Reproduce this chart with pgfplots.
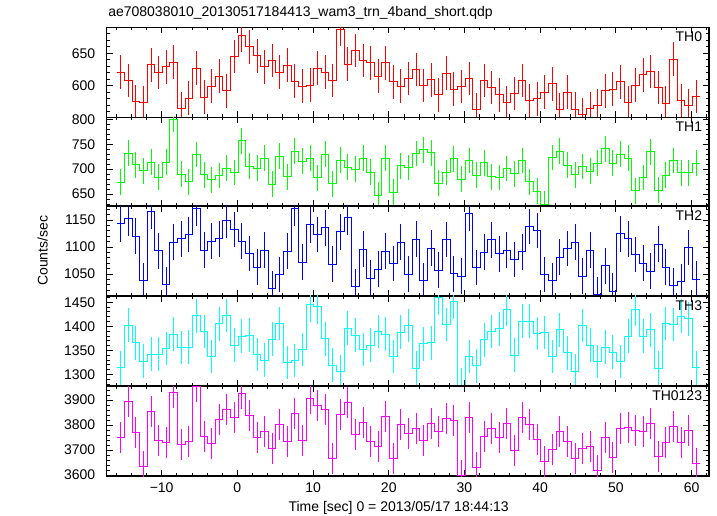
\documentclass[border=0pt]{standalone}
\usepackage{fontspec}
\setmainfont{Liberation Sans}
\usepackage{pgfplots}
\pgfplotsset{compat=1.18}
\usepackage{pgfplotstable}

\definecolor{cRed}{RGB}{255,0,0}
\definecolor{cGreen}{RGB}{0,255,0}
\definecolor{cBlue}{RGB}{0,0,255}
\definecolor{cCyan}{RGB}{0,255,255}
\definecolor{cMag}{RGB}{255,0,255}

\pgfplotstableread{
t th0 th1 th2 th3 th4
-15.4 620.7 673.3 1143 1314 3749.5
-14.4 608 732 1152.5 1402.8 3895.5
-13.4 575 708.7 1120 1366 3771
-12.4 574 696.7 1037 1327.5 3633.6
-11.4 632 714 1165.6 1342 3854.6
-10.4 620 684 1093 1342 3737
-9.4 629 714 1030.6 1354 3730.4
-8.4 636 800 1108.8 1384 3932
-7.4 564 690 1115 1356 3723.6
-6.4 580.6 674.7 1123 1357 3733
-5.4 627 729.3 1171 1422 3954
-4.4 582 688.7 1094.4 1389 3756
-3.4 599 678.7 1110.6 1337 3727.7
-2.4 614.5 687.3 1115 1405 3822
-1.4 592 702 1148.8 1422.5 3862.7
-0.4 645 693.3 1132 1360.6 3830
0.6 678 756.7 1110.6 1379.6 3928
1.6 660 706 1088 1381.7 3836.8
2.6 646 702 1062.5 1341.6 3752
3.6 629 722 1094.4 1330 3775.4
4.6 639 670 1023 1373 3707
5.6 621 726 1048.8 1405.6 3802.7
6.6 631.5 684.7 1092.5 1324.7 3733
7.6 607 736 1171 1329 3845
8.6 599 716 1072 1352 3740
9.6 600.6 722 1141 1445 3907.8
10.6 627 682.7 1123 1440.8 3879
11.6 621 730 1135.6 1374 3862.7
12.6 608 670.7 1068 1319.7 3666
13.6 686.5 718 1128 1306 3841
14.6 633 704 1155 1396.5 3888.7
15.6 654 700 1027 1381.7 3763
16.6 639 722 1096 1352 3809.5
17.6 635 694 1042 1361 3733
18.6 614.5 647.3 1059 1389.4 3712.7
19.6 635 722 1092 1384 3834
20.6 606 654 1069.4 1337 3666
21.6 599 706.7 1108.8 1388 3804
22.6 611 703.3 1049.4 1401.4 3766
23.6 625 731.3 1114.4 1312.7 3786
24.6 600 739.3 1038 1363.4 3740
25.6 609 733.3 1098 1365.5 3808
26.6 586 672 1057 1459 3772.7
27.6 619 693.3 1113.8 1403.5 3827
28.6 594.5 720.7 1050 1451 3818
29.6 598.6 679.3 1045.6 1277.5 3599.5
30.6 611 717.3 1162.5 1337 3828.6
31.6 562.5 688 1062 1318 3631
32.6 608 712.7 1090.6 1372 3756
33.6 597 684.7 1113 1389.4 3785
34.6 585.7 683.3 1087 1395 3752
35.6 574 701.3 1094.4 1435 3806.8
36.6 588 690.7 1077 1340 3696.3
37.6 608 717.3 1091 1411 3830
38.6 576.4 674.7 1138 1411 3802.7
39.6 579.5 655.3 1130.6 1385 3741.4
40.6 590 630 1048.8 1387 3655.4
41.6 602.7 723.3 1037.5 1337 3701.8
42.6 562.5 736 1081 1393 3772.7
43.6 590 708 1097 1345 3733
44.6 563.6 688.7 1108.8 1307 3667.7
45.6 555 705.3 1045.6 1401.4 3707
46.6 564.6 696 1094 1361 3715.4
47.6 568.7 712 1011 1326.8 3618.6
48.6 592 741.3 1065 1356.4 3752
49.6 594.5 712 1018 1346.5 3670.4
50.6 606 730 1124.4 1326.8 3785
51.6 574 722 1115 1379.6 3791.8
52.6 600.6 656.7 1086 1435 3779.5
53.6 616.6 683.3 1070 1379.6 3774
54.6 621.7 734.7 1055 1393 3806.8
55.6 597 658 1105 1312.7 3673
56.6 573 688 1062.5 1405.6 3730.4
57.6 640.7 717.3 1028.8 1404 3794.5
58.6 577 692.7 1036 1421 3729
59.6 569 692.7 1098.8 1415.5 3777
60.6 583 712 1040.6 1314 3647
}\lc

\newcommand{\fnt}{\fontsize{10.5}{12}\selectfont}

\pgfplotsset{
  panel/.style={
    scale only axis, width=451.75pt, height=67.5pt,
    anchor=north west,
    xmin=-17.26, xmax=62.3,
    xtick={-10,0,...,60}, minor xtick={-16,-14,...,62},
    xticklabels={},
    tick align=inside,
    major tick length=4.5pt, minor tick length=2.25pt,
    axis line style={line width=0.8pt, black},
    every tick/.style={black, line width=0.6pt},
    tick label style={font=\fnt},
    /pgf/number format/assume math mode=true,
    /pgf/number format/1000 sep={},
    yticklabel style={xshift=-5pt},
    xticklabel style={yshift=-1.5pt},
    clip=true,
  },
}

% step line + error bars for one channel
\newcommand{\chan}[4]{%
  \addplot[#1, line width=0.7pt, mark=none, const plot mark left] table[x expr=\thisrow{t}-0.5, y=#2] {\lc};
  \addplot[#1, line width=0.7pt, mark=none] coordinates {(60.1,#4) (61.1,#4)};
  \addplot[draw=none, mark=none,
    error bars/.cd, y dir=both, y fixed=#3, error mark=none,
    error bar style={draw=#1, solid, line width=0.7pt}] table[x=t, y=#2] {\lc};
}

\begin{document}
\begin{tikzpicture}
\useasboundingbox (0,0) rectangle (537.75pt,-387pt);

\begin{axis}[panel, at={(80pt,-20.5pt)}, ymin=551, ymax=690,
  ytick={600,650}, minor ytick={560,570,...,690}]
  \chan{cRed}{th0}{26}{583}
  \node[anchor=north east, inner sep=0pt, font=\fnt] at (rel axis cs:1,1) [xshift=-5pt, yshift=-3pt] {TH0};
\end{axis}

\begin{axis}[panel, at={(80pt,-88pt)}, height=66.5pt, ymin=626, ymax=804,
  ytick={650,700,750,800}, minor ytick={630,640,...,800}]
  \chan{cGreen}{th1}{26}{712}
  \node[anchor=north east, inner sep=0pt, font=\fnt] at (rel axis cs:1,1) [xshift=-5pt, yshift=-3pt] {TH1};
\end{axis}

\begin{axis}[panel, at={(80pt,-154.5pt)}, ymin=1009, ymax=1176,
  ytick={1050,1100,1150}, minor ytick={1010,1020,...,1170}]
  \chan{cBlue}{th2}{33}{1040.6}
  \node[anchor=north east, inner sep=0pt, font=\fnt] at (rel axis cs:1,1) [xshift=-5pt, yshift=-3pt] {TH2};
\end{axis}

\begin{axis}[panel, at={(80pt,-222pt)}, ymin=1276, ymax=1463,
  ytick={1300,1350,1400,1450}, minor ytick={1280,1290,...,1460}]
  \chan{cCyan}{th3}{35}{1314}
  \node[anchor=north east, inner sep=0pt, font=\fnt] at (rel axis cs:1,1) [xshift=-5pt, yshift=-3pt] {TH3};
\end{axis}

\begin{axis}[panel, at={(80pt,-289.5pt)}, ymin=3596, ymax=3956,
  ytick={3600,3700,3800,3900}, minor ytick={3600,3620,...,3940},
  xticklabels={−10,0,10,20,30,40,50,60}]
  \chan{cMag}{th4}{62}{3647}
  \node[anchor=north east, inner sep=0pt, font=\fnt] at (rel axis cs:1,1) [xshift=-5pt, yshift=-3pt] {TH0123};
\end{axis}

\node[anchor=base west, font=\fnt, inner sep=0pt] at (81pt,-12.5pt) {ae708038010\_20130517184413\_wam3\_trn\_4band\_short.qdp};
\node[rotate=90, font=\fnt, inner sep=0pt] at (32pt,-188pt) {Counts/sec};
\node[anchor=base, font=\fnt, inner sep=0pt] at (299pt,-383.5pt) {Time [sec] 0 = 2013/05/17 18:44:13};
\end{tikzpicture}
\end{document}
